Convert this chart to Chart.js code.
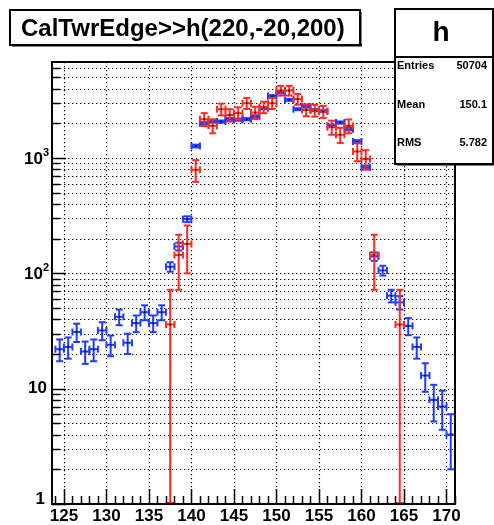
<!DOCTYPE html>
<html>
<head>
<meta charset="utf-8">
<script src="https://cdn.jsdelivr.net/npm/chart.js@4"></script>
<style>
  body { margin: 0; background: #fff; }
  #wrap { position: relative; width: 494px; height: 525px; }
</style>
</head>
<body>
<div id="wrap"><canvas id="histChart"></canvas></div>
<script>
const titleText = "CalTwrEdge>>h(220,-20,200)";
const statsName = "h";
const statsLabels = ["Entries", "Mean", "RMS"];
const statsValues = ["50704", "150.1", "5.782"];

// bin centres (bin width 1)
const binCenters = [
  124.5, 125.5, 126.5, 127.5, 128.5, 129.5, 130.5, 131.5, 132.5, 133.5,
  134.5, 135.5, 136.5, 137.5, 138.5, 139.5, 140.5, 141.5, 142.5, 143.5,
  144.5, 145.5, 146.5, 147.5, 148.5, 149.5, 150.5, 151.5, 152.5, 153.5,
  154.5, 155.5, 156.5, 157.5, 158.5, 159.5, 160.5, 161.5, 162.5, 163.5,
  164.5, 165.5, 166.5, 167.5, 168.5, 169.5, 170.5,
];

const blueCounts = [
  22, 23, 31, 21, 22, 32, 24, 42, 25, 37,
  46, 37, 46, 114, 171, 295, 1270, 2000, 2070, 2070,
  2170, 2150, 2170, 2300, 2700, 3450, 3700, 3190, 2650, 2790,
  2600, 2550, 1900, 2030, 1780, 1390, 830, 140, 106, 64,
  56, 35, 23, 13, 8, 7, 4,
];
const blueErrors = [
  4.7, 4.8, 5.6, 4.6, 4.7, 5.7, 4.9, 6.5, 5, 6.1,
  6.8, 6.1, 6.8, 10.7, 13.1, 17.2, 35.6, 44.7, 45.5, 45.5,
  46.6, 46.4, 46.6, 48, 52, 58.7, 60.8, 56.5, 51.5, 52.8,
  51, 50.5, 43.6, 45, 42.2, 37.3, 28.8, 11.8, 10.3, 8,
  7.5, 5.9, 4.8, 3.6, 2.8, 2.6, 2,
];

const redCounts = [
  null, null, null, null, null, null, null, null, null, null,
  null, null, null, 36, 144, 180, 790, 2170, 1900, 2650,
  2360, 2450, 2990, 2480, 2760, 2990, 3850, 3850, 3240, 2610,
  2590, 2530, 1850, 1590, 1900, 1140, 980, 144, null, null,
  36, null, null, null, null, null, null,
];
const redErrors = [
  null, null, null, null, null, null, null, null, null, null,
  null, null, null, 36, 72, 80, 169, 280, 262, 309,
  291, 297, 328, 299, 315, 328, 372, 372, 342, 307,
  305, 302, 258, 239, 262, 203, 188, 72, null, null,
  36, null, null, null, null, null, null,
];

const xTickValues = [125, 130, 135, 140, 145, 150, 155, 160, 165, 170];
const xTickLabels = ["125", "130", "135", "140", "145", "150", "155", "160", "165", "170"];
const yTickValues = [1, 10, 100, 1000];
const yTickLabels = [["1", ""], ["10", ""], ["10", "2"], ["10", "3"]];

const BLUE = "#1f3cff";
const RED = "#ff2a1f";
const FONT = "'Liberation Sans', Arial, sans-serif";

function toPoints(values) {
  const pts = [];
  values.forEach((v, i) => {
    if (v !== null) pts.push({ x: binCenters[i], y: v });
  });
  return pts;
}

function line(ctx, x1, y1, x2, y2) {
  ctx.beginPath();
  ctx.moveTo(x1, y1);
  ctx.lineTo(x2, y2);
  ctx.stroke();
}

function drawErrorBars(chart, values, errors, color) {
  const { ctx, chartArea: a, scales: { x, y } } = chart;
  const cap = 3.5;
  ctx.save();
  ctx.beginPath();
  ctx.rect(a.left, a.top, a.right - a.left, a.bottom - a.top);
  ctx.clip();
  ctx.strokeStyle = color;
  ctx.lineWidth = 2;
  values.forEach((v, i) => {
    if (v === null) return;
    const e = errors[i];
    const c = binCenters[i];
    const px = x.getPixelForValue(c);
    const xl = x.getPixelForValue(c - 0.5);
    const xr = x.getPixelForValue(c + 0.5);
    const py = y.getPixelForValue(v);
    const yt = Math.max(a.top, y.getPixelForValue(v + e));
    const yb = v - e > 0 ? y.getPixelForValue(v - e) : a.bottom - 1;
    line(ctx, xl, py, xr, py);
    line(ctx, xl, py - cap, xl, py + cap);
    line(ctx, xr, py - cap, xr, py + cap);
    line(ctx, px, yt, px, yb);
    line(ctx, px - cap, yt, px + cap, yt);
    line(ctx, px - cap, yb, px + cap, yb);
    ctx.fillStyle = "#000";
    ctx.fillRect(px - 0.75, py - 0.75, 1.5, 1.5);
  });
  ctx.restore();
}

const rootStyle = {
  id: "rootStyle",
  beforeDatasetsDraw(chart) {
    const { ctx, chartArea: a, scales: { x, y } } = chart;
    ctx.save();
    ctx.strokeStyle = "#000";
    ctx.lineWidth = 1.2;
    ctx.setLineDash([1.3, 2.7]);
    for (let d = 1; d <= 1000; d *= 10) {
      for (let m = 1; m <= 9; m++) {
        const v = m * d;
        if (v <= 1 || v > y.max) continue;
        const py = Math.round(y.getPixelForValue(v)) + 0.5;
        line(ctx, a.left, py, a.right, py);
      }
    }
    xTickValues.forEach((v) => {
      const px = Math.round(x.getPixelForValue(v)) + 0.5;
      line(ctx, px, a.top, px, a.bottom);
    });
    ctx.restore();
  },
  afterDatasetsDraw(chart) {
    drawErrorBars(chart, blueCounts, blueErrors, BLUE);
    drawErrorBars(chart, redCounts, redErrors, RED);
  },
  afterDraw(chart) {
    const { ctx, chartArea: a, scales: { x, y } } = chart;
    ctx.save();
    ctx.strokeStyle = "#000";
    ctx.fillStyle = "#000";

    // ticks (inside the frame, ROOT style)
    ctx.lineWidth = 1.5;
    for (let v = Math.ceil(x.min); v <= x.max; v++) {
      const px = Math.round(x.getPixelForValue(v)) + 0.5;
      const len = v % 5 === 0 ? 15 : 8;
      line(ctx, px, a.bottom, px, a.bottom - len);
    }
    for (let d = 1; d <= 1000; d *= 10) {
      for (let m = 1; m <= 9; m++) {
        const v = m * d;
        if (v > y.max) continue;
        const py = Math.round(y.getPixelForValue(v)) + 0.5;
        const len = m === 1 ? 14 : 8;
        line(ctx, a.left, py, a.left + len, py);
      }
    }

    // frame
    ctx.lineWidth = 2;
    ctx.strokeRect(a.left, a.top, a.right - a.left, a.bottom - a.top);

    // x labels
    ctx.font = "bold 17px " + FONT;
    ctx.textAlign = "center";
    ctx.textBaseline = "middle";
    xTickValues.forEach((v, i) => {
      ctx.fillText(xTickLabels[i], x.getPixelForValue(v), 516);
    });

    // y labels
    yTickValues.forEach((v, i) => {
      const [base, sup] = yTickLabels[i];
      let py = y.getPixelForValue(v);
      if (v === 1) py -= 5;
      ctx.textAlign = "right";
      ctx.textBaseline = "middle";
      if (sup) {
        ctx.font = "bold 11px " + FONT;
        ctx.fillText(sup, 49, py - 5);
        ctx.font = "bold 17px " + FONT;
        ctx.fillText(base, 43, py + 1);
      } else {
        ctx.font = "bold 17px " + FONT;
        ctx.fillText(base, v === 1 ? 45 : 47, py);
      }
    });

    // title box
    ctx.fillStyle = "#fff";
    ctx.fillRect(10, 10, 350, 35);
    ctx.lineWidth = 2;
    ctx.strokeRect(10, 10, 350, 35);
    ctx.fillStyle = "#000";
    ctx.fillRect(12, 44, 350, 2.5);
    ctx.fillRect(359, 12, 2.5, 34);
    ctx.font = "bold 24px " + FONT;
    ctx.textAlign = "left";
    ctx.textBaseline = "alphabetic";
    ctx.fillText(titleText, 21, 36);

    // stats box
    ctx.fillStyle = "#fff";
    ctx.fillRect(395, 9, 98, 155);
    ctx.strokeRect(395, 9, 98, 155);
    ctx.fillStyle = "#000";
    ctx.fillRect(397, 163, 97, 2.5);
    line(ctx, 395, 57, 493, 57);
    ctx.font = "bold 28px " + FONT;
    ctx.textAlign = "center";
    ctx.textBaseline = "middle";
    ctx.fillText(statsName, 441, 33);
    ctx.font = "bold 11px " + FONT;
    const rowY = [66, 105, 143];
    statsLabels.forEach((lab, i) => {
      ctx.textAlign = "left";
      ctx.fillText(lab, 397, rowY[i]);
      ctx.textAlign = "right";
      ctx.fillText(statsValues[i], 487, rowY[i]);
    });
    ctx.restore();
  },
};

const histChart = new Chart(document.getElementById("histChart").getContext("2d"), {
  type: "scatter",
  data: {
    datasets: [
      { label: "blue", data: toPoints(blueCounts), pointRadius: 0, borderColor: BLUE },
      { label: "red", data: toPoints(redCounts), pointRadius: 0, borderColor: RED },
    ],
  },
  options: {
    responsive: true,
    maintainAspectRatio: false,
    animation: false,
    layout: {
      padding: { left: 52, right: 39, top: 62, bottom: 21 },
    },
    plugins: {
      legend: { display: false },
      tooltip: { enabled: false },
    },
    scales: {
      x: { type: "linear", display: false, min: 123.6, max: 171 },
      y: { type: "logarithmic", display: false, min: 1, max: 6800 },
    },
  },
  plugins: [rootStyle],
});
</script>
</body>
</html>
